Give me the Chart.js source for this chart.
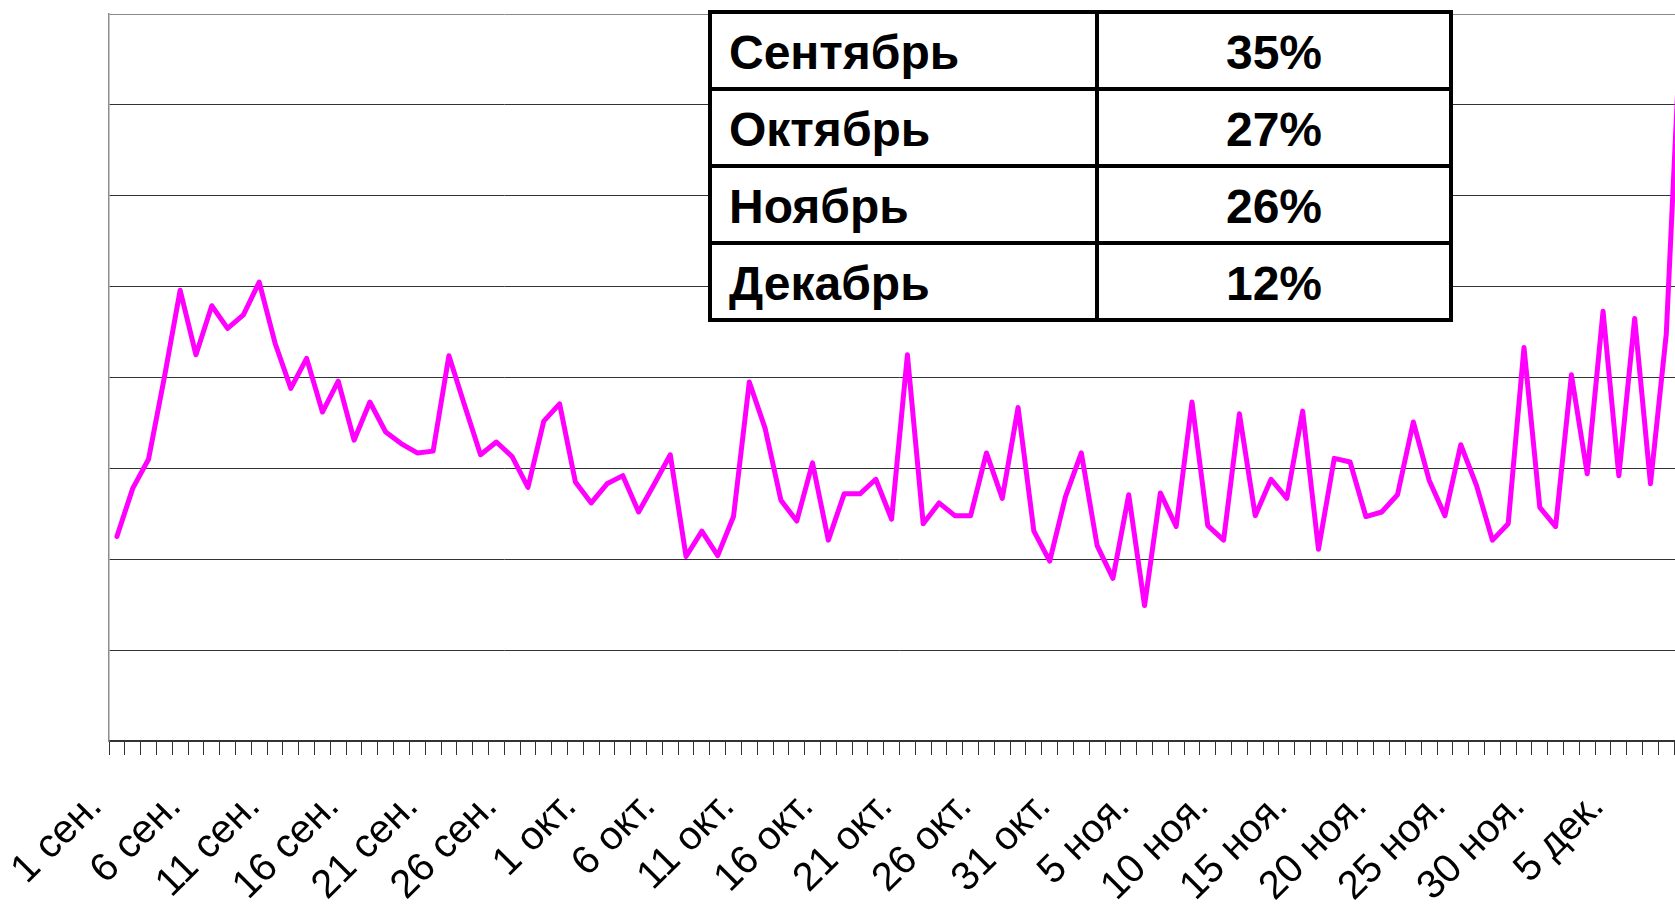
<!DOCTYPE html>
<html>
<head>
<meta charset="utf-8">
<script src="https://cdn.jsdelivr.net/npm/chart.js@4.4.1/dist/chart.umd.min.js"></script>
<style>
    html, body { margin: 0; padding: 0; background: #fff; overflow: hidden; width: 1675px; height: 905px; }
    #wrap { position: relative; width: 1675px; height: 905px; overflow: hidden; }
    #chart { position: absolute; left: 0; top: 0; }
    .month-table {
        position: absolute; left: 708px; top: 10px;
        display: grid;
        grid-template-columns: 383px 350px;
        grid-auto-rows: 73px;
        gap: 4px; padding: 4px;
        background: #000;
        font-family: "Liberation Sans", Arial, sans-serif;
        font-weight: bold; font-size: 48px; color: #000;
    }
    .month-table div { background: #fff; display: flex; align-items: center; padding-top: 3px; box-sizing: border-box; }
    .month-table .name { padding-left: 17px; }
    .month-table .pct { justify-content: center; }
</style>
</head>
<body>
<div id="wrap">
    <canvas id="chart" width="1690" height="905"></canvas>
    <div class="month-table" id="monthTable"></div>
</div>
<script>
// Months on the x axis and how many days of each are shown
const monthShort = ['сен.', 'окт.', 'ноя.', 'дек.'];
const monthDays = [30, 31, 30, 9];

// Daily values (gridline step = 10)
const dailyValues = [
    22.5, 27.8, 31.0, 40.0, 49.6, 42.5, 47.9, 45.4, 46.9, 50.5,
    43.8, 38.8, 42.1, 36.2, 39.6, 33.1, 37.3, 34.0, 32.7, 31.7,
    31.9, 42.4, 36.9, 31.5, 32.9, 31.3, 27.9, 35.2, 37.1, 28.5,
    26.2, 28.3, 29.2, 25.2, 28.3, 31.5, 20.3, 23.1, 20.4, 24.7,
    39.5, 34.4, 26.5, 24.2, 30.6, 22.1, 27.2, 27.2, 28.8, 24.4,
    42.5, 23.9, 26.2, 24.8, 24.8, 31.7, 26.7, 36.7, 23.1, 19.8,
    26.9, 31.7, 21.5, 17.9, 27.1, 14.9, 27.3, 23.6, 37.3, 23.7,
    22.1, 36.0, 24.8, 28.8, 26.7, 36.3, 21.1, 31.1, 30.7, 24.7,
    25.2, 27.1, 35.1, 28.7, 24.8, 32.6, 28.1, 22.1, 23.9, 43.3,
    25.7, 23.6, 40.3, 29.4, 47.3, 29.2, 46.5, 28.3, 44.8, 82.0
];

// Monthly share table
const tableMonths = ['Сентябрь', 'Октябрь', 'Ноябрь', 'Декабрь'];
const tableShares = ['35%', '27%', '26%', '12%'];

const labelStep = 5;
const yMax = 80;
const yStep = 10;

const dayLabels = [];
monthShort.forEach((m, mi) => {
    for (let d = 1; d <= monthDays[mi]; d++) dayLabels.push(d + ' ' + m);
});

// table overlay
const tbl = document.getElementById('monthTable');
tableMonths.forEach((name, i) => {
    tbl.insertAdjacentHTML('beforeend',
        `<div class="name">${name}</div><div class="pct">${tableShares[i]}</div>`);
});

new Chart(document.getElementById('chart'), {
    type: 'line',
    data: {
        labels: dayLabels,
        datasets: [{
            data: dailyValues,
            borderColor: '#ff00ff',
            borderWidth: 5,
            borderJoinStyle: 'round',
            borderCapStyle: 'round',
            pointRadius: 0,
            tension: 0,
            fill: false
        }]
    },
    options: {
        responsive: false,
        animation: false,
        layout: { padding: { left: 109, top: 14, right: 0, bottom: 0 } },
        plugins: { legend: { display: false }, tooltip: { enabled: false } },
        scales: {
            x: {
                offset: true,
                grid: {
                    offset: true,
                    drawOnChartArea: false,
                    drawTicks: true,
                    tickLength: 14,
                    tickColor: '#333333',
                    tickWidth: 1
                },
                border: { display: true, color: '#333333', width: 1.5 },
                ticks: {
                    autoSkip: false,
                    maxRotation: 45,
                    minRotation: 45,
                    padding: 28,
                    labelOffset: -21,
                    color: '#000',
                    font: { family: 'Liberation Sans', size: 40 },
                    callback: function (val, idx) {
                        return idx % labelStep === 0 ? this.getLabelForValue(val) : '';
                    }
                },
                afterFit: (scale) => {
                    scale.height = 164;
                    scale.paddingLeft = 0;
                    scale.paddingRight = 0;
                }
            },
            y: {
                min: 0,
                max: yMax,
                ticks: { display: false, stepSize: yStep },
                grid: {
                    drawTicks: false,
                    color: (c) => c.tick && c.tick.value === yMax ? '#8a8a8a' : '#333333',
                    lineWidth: 1
                },
                border: { display: true, color: '#8c8c8c', width: 1.5 },
                afterFit: (scale) => { scale.width = 0; }
            }
        }
    }
});
</script>
</body>
</html>
